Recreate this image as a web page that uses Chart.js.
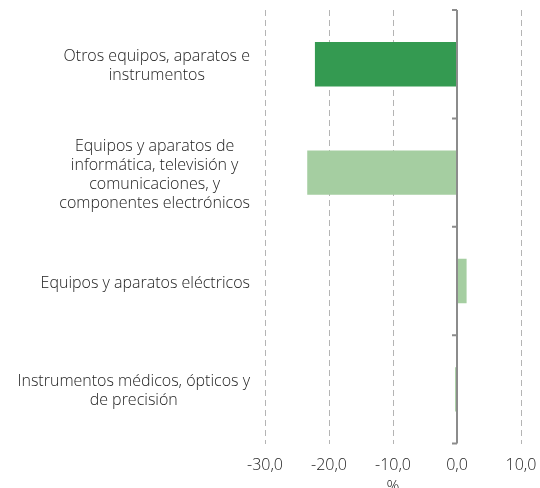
<!DOCTYPE html>
<html lang="es">
<head>
    <meta charset="UTF-8">
    <title>Variación por producto</title>
    <script src="https://cdn.jsdelivr.net/npm/chart.js"></script>
    <style>
        html, body { margin: 0; padding: 0; overflow: hidden; background: #fff; }
    </style>
</head>
<body>
    <canvas id="myChart" width="540" height="497"></canvas>

    <script>
        // Data
        const categories = [
            ['Otros equipos, aparatos e', 'instrumentos'],
            ['Equipos y aparatos de', 'informática, televisión y', 'comunicaciones, y', 'componentes electrónicos'],
            ['Equipos y aparatos eléctricos'],
            ['Instrumentos médicos, ópticos y', 'de precisión']
        ];
        const values = [-22.2, -23.4, 1.5, -0.3];
        const barColors = ['#349a51', '#a5cea1', '#a5cea1', '#a5cea1'];
        const xTicks = [-30, -20, -10, 0, 10];

        const FONT = "'Open Sans', 'Liberation Sans', Arial, sans-serif";

        // Category labels, each block centred on itself and right-aligned as a whole
        const labelPlugin = {
            id: 'blockLabels',
            afterDraw(chart) {
                const ctx = chart.ctx;
                const y = chart.scales.y;
                const right = chart.chartArea.left - 15;
                const lh = 19;
                ctx.save();
                ctx.font = '300 16px ' + FONT;
                ctx.fillStyle = '#222';
                ctx.textAlign = 'center';
                ctx.textBaseline = 'middle';
                categories.forEach((lines, i) => {
                    const w = Math.max(...lines.map(l => ctx.measureText(l).width));
                    const cx = right - w / 2;
                    const cy = y.getPixelForValue(i) + 2;
                    const top = cy - (lines.length - 1) * lh / 2;
                    lines.forEach((l, k) => ctx.fillText(l, cx, top + k * lh));
                });
                ctx.restore();
            }
        };

        // zero axis with small tick marks between categories
        const zeroTicks = {
            id: 'zeroTicks',
            afterDatasetsDraw(chart) {
                const ctx = chart.ctx;
                const x0 = chart.scales.x.getPixelForValue(0);
                const y = chart.scales.y;
                ctx.save();
                ctx.strokeStyle = '#8c8c8c';
                ctx.lineWidth = 2;
                ctx.beginPath();
                ctx.moveTo(x0, chart.chartArea.top);
                ctx.lineTo(x0, chart.chartArea.bottom);
                for (let i = 0; i <= categories.length; i++) {
                    const py = i === 0 ? chart.chartArea.top
                        : i === categories.length ? chart.chartArea.bottom
                        : (y.getPixelForValue(i - 1) + y.getPixelForValue(i)) / 2;
                    ctx.moveTo(x0 - 5, py);
                    ctx.lineTo(x0, py);
                }
                ctx.stroke();
                ctx.restore();
            }
        };

        const ctx = document.getElementById('myChart').getContext('2d');
        const myChart = new Chart(ctx, {
            type: 'bar',
            data: {
                labels: categories,
                datasets: [{
                    data: values,
                    backgroundColor: barColors,
                    borderWidth: 0,
                    categoryPercentage: 1,
                    barPercentage: 0.41
                }]
            },
            options: {
                indexAxis: 'y',
                responsive: false,
                animation: false,
                layout: { padding: { top: 10, right: 19, left: 0, bottom: 0 } },
                plugins: { legend: { display: false }, tooltip: { enabled: false } },
                scales: {
                    x: {
                        min: -30,
                        max: 10,
                        afterBuildTicks: scale => { scale.ticks = xTicks.map(v => ({ value: v })); },
                        afterFit: scale => { scale.paddingLeft = 0; scale.paddingRight = 0; },
                        ticks: {
                            color: '#222',
                            font: { family: FONT, size: 16, weight: 300 },
                            padding: 12,
                            callback: v => v.toFixed(1).replace('.', ',')
                        },
                        grid: {
                            color: c => (c.tick && c.tick.value === 0) ? 'rgba(0,0,0,0)' : '#b4b4b4',
                            lineWidth: 1,
                            drawTicks: false
                        },
                        border: {
                            display: false,
                            dash: c => (c.tick && c.tick.value === 0) ? [] : [6, 4]
                        },
                        title: {
                            display: true,
                            text: '%',
                            color: '#222',
                            font: { family: FONT, size: 16, weight: 300 },
                            padding: { top: -9, bottom: 0 }
                        }
                    },
                    y: {
                        ticks: { display: false },
                        grid: { display: false },
                        border: { display: false },
                        afterFit: scale => { scale.width = 265; }
                    }
                }
            },
            plugins: [labelPlugin, zeroTicks]
        });
    </script>
</body>
</html>
